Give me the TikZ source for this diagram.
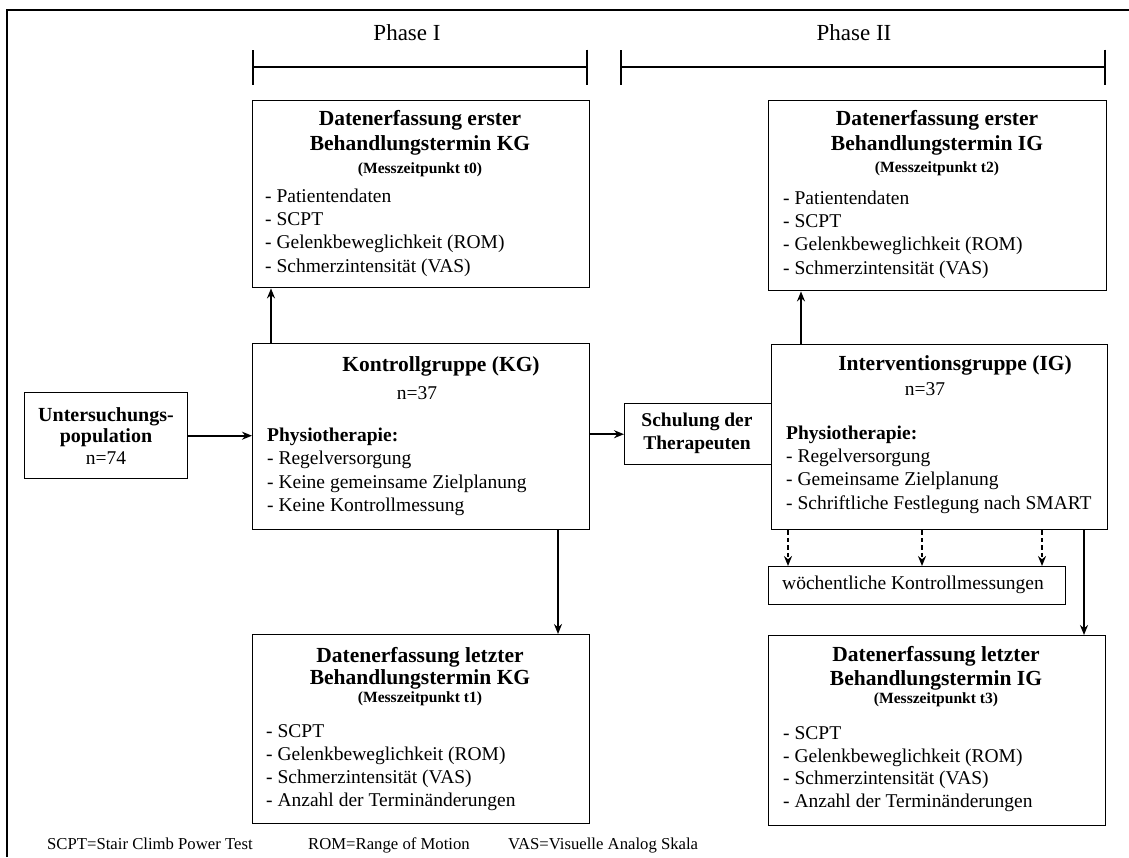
\documentclass[tikz,border=0pt]{standalone}
\usepackage{fontspec}
\setmainfont{Liberation Serif}
\usetikzlibrary{arrows.meta,positioning,calc}
\newcommand{\fbody}{\fontsize{19.5}{23}\selectfont}
\newcommand{\ftitle}{\fontsize{21.5}{25}\selectfont\bfseries}
\newcommand{\fmess}{\fontsize{15.6}{18}\selectfont\bfseries}
\newcommand{\fphase}{\fontsize{23}{27}\selectfont}
\newcommand{\fnote}{\fontsize{16.7}{20}\selectfont}

\begin{document}
\begin{tikzpicture}[x=1pt,y=-1pt,
  box/.style={draw,line width=1.4pt,inner sep=0pt,anchor=north west},
  txt/.style={inner sep=0pt,anchor=mid west,font=\fbody},
  ttl/.style={inner sep=0pt,anchor=mid,font=\ftitle},
  mess/.style={inner sep=0pt,anchor=mid,font=\fmess},
  arr/.style={line width=1.9pt,-{Stealth[length=10pt,width=8pt]}},
  darr/.style={arr,dash pattern=on 4.5pt off 3pt}]
  \useasboundingbox (0,0) rectangle (1129,857);
  % frame and phases
  \draw[line width=1.4pt] (7,857) -- (7,10) -- (1129,10);
  \draw[line width=2pt,{Bar[width=35pt]}-{Bar[width=35pt]}] (252,67) -- (588,67);
  \draw[line width=2pt,{Bar[width=35pt]}-{Bar[width=35pt]}] (620,67) -- (1106,67);
  \node[font=\fphase,inner sep=0pt] (ph1) at (407,33) {Phase I};
  \node[font=\fphase,inner sep=0pt] (ph2) at (854,33) {Phase II};

  % boxes
  \node[box,minimum width=163pt,minimum height=86pt] (unt) at (24,392) {};
  \node[box,minimum width=337pt,minimum height=187pt] (erstKG) at (252,100) {};
  \node[box,minimum width=337pt,minimum height=186pt] (KG) at (252,343) {};
  \node[box,minimum width=337pt,minimum height=189pt] (letztKG) at (252,634) {};
  \node[box,minimum width=147pt,minimum height=61pt] (schul) at (624,403) {};
  \node[box,minimum width=338pt,minimum height=190pt] (erstIG) at (768,100) {};
  \node[box,minimum width=336pt,minimum height=185pt] (IG) at (771,344) {};
  \node[box,minimum width=297pt,minimum height=38pt] (woche) at (768,566) {};
  \node[box,minimum width=337pt,minimum height=190pt] (letztIG) at (768,635) {};

  % Untersuchungspopulation
  \node[ttl,font=\fontsize{20}{24}\selectfont\bfseries] at (106,419) {Untersuchungs-};
  \node[ttl,font=\fontsize{20}{24}\selectfont\bfseries] at (106,440) {population};
  \node[txt,anchor=mid] at (106,462) {n=74};

  % erster Termin KG / IG
  \node[ttl] at (420,123) {Datenerfassung erster};
  \node[ttl] at (420,148) {Behandlungstermin KG};
  \node[mess] at (420,171) {(Messzeitpunkt t0)};
  \foreach \t [count=\i from 0] in {- Patientendaten,- SCPT,- Gelenkbeweglichkeit (ROM),- Schmerzintensität (VAS)}
    \node[txt] at (265,{200+23.3*\i}) {\t};
  \node[ttl] at (937,123) {Datenerfassung erster};
  \node[ttl] at (937,148) {Behandlungstermin IG};
  \node[mess] at (937,170) {(Messzeitpunkt t2)};
  \foreach \t [count=\i from 0] in {- Patientendaten,- SCPT,- Gelenkbeweglichkeit (ROM),- Schmerzintensität (VAS)}
    \node[txt] at (783,{202+23.3*\i}) {\t};

  % Gruppen
  \node[ttl] at (441,369) {Kontrollgruppe (KG)};
  \node[txt,anchor=mid] at (417,397) {n=37};
  \node[txt,font=\fbody\bfseries] at (267,439) {Physiotherapie:};
  \foreach \t [count=\i from 0] in {- Regelversorgung,- Keine gemeinsame Zielplanung,- Keine Kontrollmessung}
    \node[txt] at (267,{462+23.8*\i}) {\t};
  \node[ttl] at (955,368) {Interventionsgruppe (IG)};
  \node[txt,anchor=mid] at (925,393) {n=37};
  \node[txt,font=\fbody\bfseries] at (786,437) {Physiotherapie:};
  \foreach \t [count=\i from 0] in {- Regelversorgung,- Gemeinsame Zielplanung,- Schriftliche Festlegung nach SMART}
    \node[txt] at (786,{460+23.5*\i}) {\t};
  \node[txt,font=\fbody\bfseries,anchor=mid] at (697,424) {Schulung der};
  \node[txt,font=\fbody\bfseries,anchor=mid] at (697,447) {Therapeuten};
  \node[txt,anchor=mid] at (913,587) {wöchentliche Kontrollmessungen};

  % letzter Termin KG / IG
  \node[ttl] at (420,660) {Datenerfassung letzter};
  \node[ttl] at (420,682) {Behandlungstermin KG};
  \node[mess] at (420,700) {(Messzeitpunkt t1)};
  \foreach \t [count=\i from 0] in {- SCPT,- Gelenkbeweglichkeit (ROM),- Schmerzintensität (VAS),- Anzahl der Terminänderungen}
    \node[txt] at (266,{735+23*\i}) {\t};
  \node[ttl] at (936,659) {Datenerfassung letzter};
  \node[ttl] at (936,683) {Behandlungstermin IG};
  \node[mess] at (936,701) {(Messzeitpunkt t3)};
  \foreach \t [count=\i from 0] in {- SCPT,- Gelenkbeweglichkeit (ROM),- Schmerzintensität (VAS),- Anzahl der Terminänderungen}
    \node[txt] at (783,{737+22.7*\i}) {\t};

  % footnote
  \node[txt,font=\fnote] at (47,847) {SCPT=Stair Climb Power Test};
  \node[txt,font=\fnote] at (308,847) {ROM=Range of Motion};
  \node[txt,font=\fnote] at (508,847) {VAS=Visuelle Analog Skala};

  % connectors
  \draw[arr] (unt.east) -- (unt.east -| KG.west);
  \draw[arr] (KG.east |- schul.west) -- (schul.west);
  \draw[arr] ([xshift=19pt]KG.north west) coordinate (a) -- (a |- erstKG.south);
  \draw[arr] ([xshift=30pt]IG.north west) coordinate (b) -- (b |- erstIG.south);
  \draw[arr] ([xshift=306pt]KG.south west) coordinate (c) -- (c |- letztKG.north);
  \draw[arr] ([xshift=313pt]IG.south west) coordinate (d) -- (d |- letztIG.north);
  \foreach \dx in {17,151,271}
    \draw[darr] ([xshift=\dx pt]IG.south west) coordinate (e) -- (e |- woche.north);
\end{tikzpicture}
\end{document}
